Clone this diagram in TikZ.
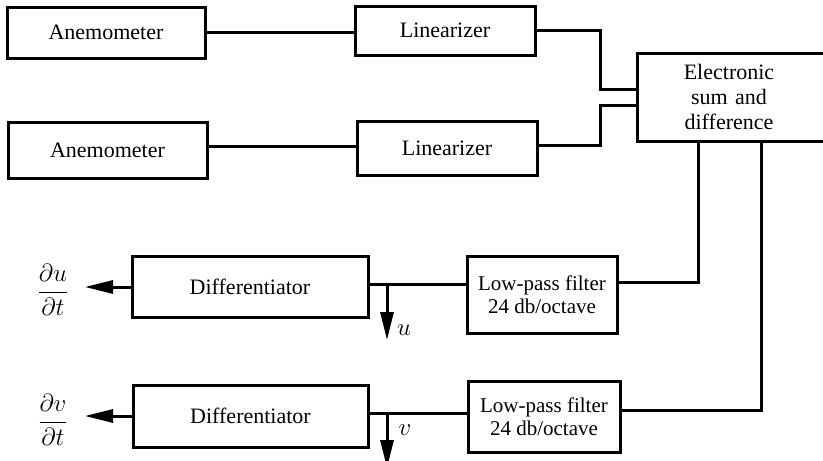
\documentclass[tikz,border=0pt]{standalone}
\usepackage{fontspec}
\setmainfont{Liberation Serif}
\usetikzlibrary{arrows.meta}
\begin{document}
\begin{tikzpicture}[x=1pt,y=-1pt,
  box/.style={draw, line width=3pt, inner sep=0pt, align=center,
    font=\fontsize{22}{25}\selectfont},
  wire/.style={line width=3pt},
  outarrow/.style={line width=3pt, -{Triangle[length=28pt,width=13pt]}},
  lbl/.style={inner sep=0pt, font=\fontsize{24}{28}\selectfont}]
\useasboundingbox (0,0) rectangle (823,461);
\clip (0,0) rectangle (823,461);

% sensor chain
\node[box, minimum width=198pt, minimum height=51pt] (A1) at (106,32.5) {Anemometer};
\node[box, minimum width=199pt, minimum height=56pt] (A2) at (107.5,150) {Anemometer};
\node[box, minimum width=180pt, minimum height=49pt] (L1) at (445,30.5) {Linearizer};
\node[box, minimum width=180pt, minimum height=54pt] (L2) at (447,148) {Linearizer};

% sum and difference unit, running off the right edge
\node[box, minimum width=200pt, minimum height=88pt, text width=190pt] (E) at (737,97)
  {\hspace*{-16pt}Electronic\\\hspace*{-16pt}sum and\\\hspace*{-16pt}difference};

% filters and differentiators
\node[box, minimum width=150pt, minimum height=77pt, font=\fontsize{21}{23.5}\selectfont] (F1) at (542,294.5) {Low-pass filter\\24 db/octave};
\node[box, minimum width=152pt, minimum height=71pt, font=\fontsize{21}{23.5}\selectfont] (F2) at (544,416.5) {Low-pass filter\\24 db/octave};
\node[box, minimum width=236pt, minimum height=61pt] (D1) at (250,286.5) {Differentiator};
\node[box, minimum width=235pt, minimum height=62pt] (D2) at (250.5,416) {Differentiator};

% junction points and free ends
\coordinate (ju) at (387,284);
\coordinate (jv) at (387,413);
\coordinate (uend) at (387,340);
\coordinate (vend) at (387,468);
\coordinate (duend) at (85,287);
\coordinate (dvend) at (85,416);

% connections
\draw[wire] (A1.east |- 0,32) -- (L1.west |- 0,32);
\draw[wire] (A2.east |- 0,146) -- (L2.west |- 0,146);
\draw[wire] (L1.east |- 0,30) -- (600,30) -- (600,89) -- (E.west |- 0,89);
\draw[wire] (L2.east |- 0,145) -- (600,145) -- (600,105) -- (E.west |- 0,105);
\draw[wire] (698,0 |- E.south) -- (698,282) -- (F1.east |- 0,282);
\draw[wire] (761,0 |- E.south) -- (761,410) -- (F2.east |- 0,410);
\draw[wire] (F1.west |- ju) -- (D1.east |- ju);
\draw[wire] (F2.west |- jv) -- (D2.east |- jv);
\draw[outarrow] (ju) -- (uend);
\draw[outarrow] (jv) -- (vend);
\draw[outarrow] (D1.west |- duend) -- (duend);
\draw[outarrow] (D2.west |- dvend) -- (dvend);

% labels
\node[lbl] (u) at (404,330) {$u$};
\node[lbl] (v) at (405,430) {$v$};
\node[lbl] (du) at (53,290) {$\displaystyle\frac{\partial u}{\partial t}$};
\node[lbl] (dv) at (53,420) {$\displaystyle\frac{\partial v}{\partial t}$};
\end{tikzpicture}
\end{document}
